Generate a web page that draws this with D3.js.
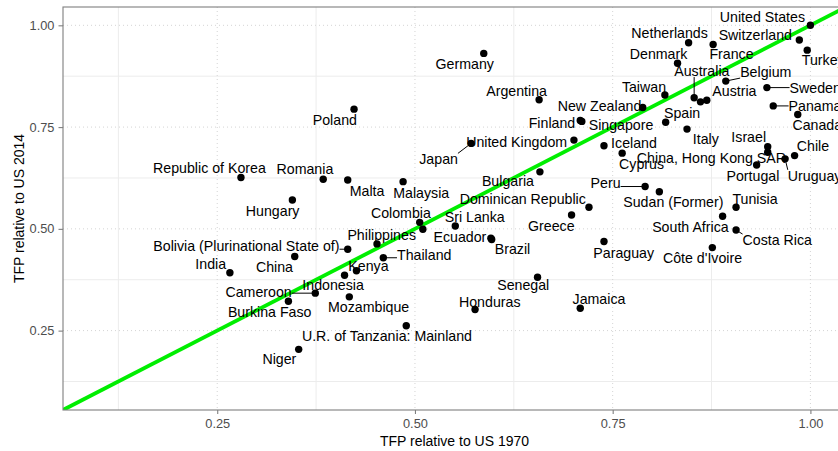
<!DOCTYPE html>
<html>
<head>
<meta charset="utf-8">
<script src="https://cdn.jsdelivr.net/npm/d3@7"></script>
<style>
  body { margin: 0; background: #fff; }
  text { font-family: "Liberation Sans", Arial, Helvetica, sans-serif; }
</style>
</head>
<body>
<svg id="chart" width="838" height="451"></svg>
<script>
// data: TFP relative to the US, 1970 (x) and 2014 (y)
var countries = ["United States", "Netherlands", "Switzerland", "Turkey", "Denmark",
                 "France", "Germany", "Australia", "Belgium", "Austria",
                 "Sweden", "Panama", "Canada", "Taiwan", "Argentina",
                 "New Zealand", "Spain", "Finland", "Singapore", "Poland",
                 "Iceland", "United Kingdom", "Italy", "Israel", "China, Hong Kong SAR",
                 "Chile", "Japan", "Cyprus", "Portugal", "Uruguay",
                 "Republic of Korea", "Romania", "Bulgaria", "Peru", "Malta",
                 "Malaysia", "Dominican Republic", "Sudan (Former)", "Tunisia", "Hungary",
                 "Colombia", "Sri Lanka", "Greece", "South Africa", "Philippines",
                 "Ecuador", "Brazil", "Costa Rica", "Bolivia (Plurinational State of)", "Thailand",
                 "Paraguay", "Côte d'Ivoire", "India", "China", "Kenya",
                 "Indonesia", "Cameroon", "Senegal", "Burkina Faso", "Mozambique",
                 "Honduras", "Jamaica", "U.R. of Tanzania: Mainland", "Niger",
                 null, null];   // two points whose labels were dropped

var tfp1970 = [1.000, 0.846, 0.986, 0.996, 0.832,
               0.877, 0.587, 0.853, 0.893, 0.869,
               0.945, 0.953, 0.984, 0.816, 0.657,
               0.788, 0.817, 0.709, 0.711, 0.423,
               0.739, 0.701, 0.844, 0.946, 0.946,
               0.980, 0.571, 0.762, 0.932, 0.968,
               0.280, 0.384, 0.658, 0.791, 0.415,
               0.485, 0.720, 0.809, 0.906, 0.345,
               0.506, 0.551, 0.698, 0.889, 0.452,
               0.596, 0.597, 0.906, 0.415, 0.460,
               0.739, 0.876, 0.266, 0.348, 0.426,
               0.411, 0.374, 0.655, 0.340, 0.417,
               0.576, 0.709, 0.489, 0.353,
               0.861, 0.510];

var tfp2014 = [1.000, 0.957, 0.964, 0.939, 0.907,
               0.953, 0.931, 0.822, 0.863, 0.816,
               0.847, 0.802, 0.781, 0.829, 0.817,
               0.798, 0.762, 0.766, 0.764, 0.794,
               0.704, 0.718, 0.745, 0.702, 0.688,
               0.680, 0.710, 0.686, 0.657, 0.672,
               0.626, 0.622, 0.640, 0.604, 0.620,
               0.616, 0.553, 0.591, 0.553, 0.571,
               0.516, 0.507, 0.534, 0.531, 0.463,
               0.477, 0.474, 0.497, 0.450, 0.429,
               0.469, 0.454, 0.392, 0.432, 0.397,
               0.386, 0.342, 0.381, 0.322, 0.333,
               0.302, 0.305, 0.262, 0.204,
               0.812, 0.499];

// where the repelled labels ended up, px from their point
var labelNudge = [[-48, -8], [-19, -9.5], [-44, -5], [16, 10], [-19, -9.3],
                  [18.4, 9.7], [-19, 11], [7.7, -26.7], [40, -9], [27.6, -9.6],
                  [48.3, 0], [41.8, 0], [19.5, 10.7], [-20.9, -7.7], [-22.5, -9.3],
                  [-43.2, -1.7], [16.4, -9.6], [-28.3, 2.3], [39.2, 3.5], [-19.2, 10.7],
                  [30, -3], [-57.3, 1.7], [18.8, 10], [-19, -10], [-56.3, 5.7],
                  [18.4, -9.5], [-32.5, 16], [19.4, 10.7], [-3.7, 11], [29.5, 17],
                  [-31.5, -9.4], [-18.3, -10.3], [-32, 9.3], [-39.5, -4], [19.3, 10.7],
                  [18.1, 11.6], [-66.2, -8.6], [14, 10.6], [19, -8], [-19.7, 11],
                  [-18.8, -9], [19.4, -8.7], [-20.2, 10.7], [-32.2, 10.4], [4.7, -8.7],
                  [-31, -1.6], [20.8, 9.8], [41.2, 10], [-101.3, -3.3], [40.9, -3.2],
                  [19.7, 11.6], [-9.8, 10], [-19.2, -8.7], [-20.3, 10.6], [12, -4.7],
                  [-11.5, 9.7], [-56.7, -1.6], [-14.3, 7.7], [-18.7, 10.4], [19.3, 10],
                  [14.7, -7.6], [18.7, -9.3], [-19.3, 10], [-19.3, 10],
                  null, null];

var majorTicks = [0.25, 0.50, 0.75, 1.00];
var minorTicks = [0.125, 0.375, 0.625, 0.875];
var limits = [0.055, 1.045];

// layout
var margin = { top: 7, left: 63 },
    width = 783,
    height = 403;

var svg = d3.select("#chart");

var x = d3.scaleLinear().domain(limits).range([0, width]);
var y = d3.scaleLinear().domain(limits).range([height, 0]);

var g = svg.append("g")
    .attr("transform", "translate(" + margin.left + "," + margin.top + ")");

svg.append("defs").append("clipPath")
    .attr("id", "panel-clip")
    .append("rect")
    .attr("width", width)
    .attr("height", height);

// grid: minor solid, major dotted
g.selectAll(".minor-x").data(minorTicks).enter().append("line")
    .attr("x1", d => x(d)).attr("x2", d => x(d))
    .attr("y1", 0).attr("y2", height)
    .attr("stroke", "#ececec").attr("stroke-width", 1);
g.selectAll(".minor-y").data(minorTicks).enter().append("line")
    .attr("y1", d => y(d)).attr("y2", d => y(d))
    .attr("x1", 0).attr("x2", width)
    .attr("stroke", "#ececec").attr("stroke-width", 1);
g.selectAll(".major-x").data(majorTicks).enter().append("line")
    .attr("x1", d => x(d)).attr("x2", d => x(d))
    .attr("y1", 0).attr("y2", height)
    .attr("stroke", "#d4d4d4").attr("stroke-width", 1)
    .attr("stroke-dasharray", "1,3");
g.selectAll(".major-y").data(majorTicks).enter().append("line")
    .attr("y1", d => y(d)).attr("y2", d => y(d))
    .attr("x1", 0).attr("x2", width)
    .attr("stroke", "#d4d4d4").attr("stroke-width", 1)
    .attr("stroke-dasharray", "1,3");

// 45 degree line
g.append("line")
    .attr("clip-path", "url(#panel-clip)")
    .attr("x1", x(limits[0])).attr("y1", y(limits[0]))
    .attr("x2", x(limits[1])).attr("y2", y(limits[1]))
    .attr("stroke", "#00ee00")
    .attr("stroke-width", 3.8);

// points
var idx = d3.range(countries.length);
g.selectAll(".dot").data(idx).enter().append("circle")
    .attr("cx", i => x(tfp1970[i]))
    .attr("cy", i => y(tfp2014[i]))
    .attr("r", 3.7)
    .attr("fill", "#000");

// labels (+ leader segments when the label sits away from its point)
var labelled = idx.filter(i => countries[i] !== null);
labelled.forEach(function (i) {
    var px = x(tfp1970[i]), py = y(tfp2014[i]);
    var t = g.append("text")
        .attr("x", px + labelNudge[i][0])
        .attr("y", py + labelNudge[i][1])
        .attr("text-anchor", "middle")
        .attr("dominant-baseline", "central")
        .style("font-size", "14.2px")
        .attr("fill", "#000")
        .text(countries[i]);
    var b = t.node().getBBox();
    var cx = Math.max(b.x, Math.min(px, b.x + b.width)),
        cy = Math.max(b.y + 2, Math.min(py, b.y + b.height - 2));
    if (Math.hypot(cx - px, cy - py) > 7.5) {
        g.insert("line", "text")
            .attr("x1", px).attr("y1", py)
            .attr("x2", cx).attr("y2", cy)
            .attr("stroke", "#000")
            .attr("stroke-width", 1);
    }
});

// panel border
g.append("rect")
    .attr("width", width).attr("height", height)
    .attr("fill", "none")
    .attr("stroke", "#7f7f7f")
    .attr("stroke-width", 1.1);

// axes
var fmt = d3.format(".2f");
var xAxis = g.append("g")
    .attr("transform", "translate(0," + height + ")")
    .call(d3.axisBottom(x).tickValues(majorTicks).tickFormat(fmt).tickSize(4).tickPadding(4.5));
var yAxis = g.append("g")
    .call(d3.axisLeft(y).tickValues(majorTicks).tickFormat(fmt).tickSize(4.5).tickPadding(4));

[xAxis, yAxis].forEach(function (a) {
    a.select(".domain").remove();
    a.selectAll(".tick line").attr("stroke", "#7f7f7f").attr("stroke-width", 1.1);
    a.selectAll(".tick text")
        .attr("fill", "#4d4d4d")
        .style("font-size", "12.8px")
        .style("font-family", "'Liberation Sans', Arial, sans-serif");
});

// axis titles
svg.append("text")
    .attr("x", margin.left + width / 2)
    .attr("y", 441)
    .attr("text-anchor", "middle")
    .attr("dominant-baseline", "central")
    .style("font-size", "14px")
    .text("TFP relative to US 1970");

svg.append("text")
    .attr("transform", "translate(19," + (margin.top + height / 2) + ") rotate(-90)")
    .attr("text-anchor", "middle")
    .attr("dominant-baseline", "central")
    .style("font-size", "14px")
    .text("TFP relative to US 2014");
</script>
</body>
</html>
